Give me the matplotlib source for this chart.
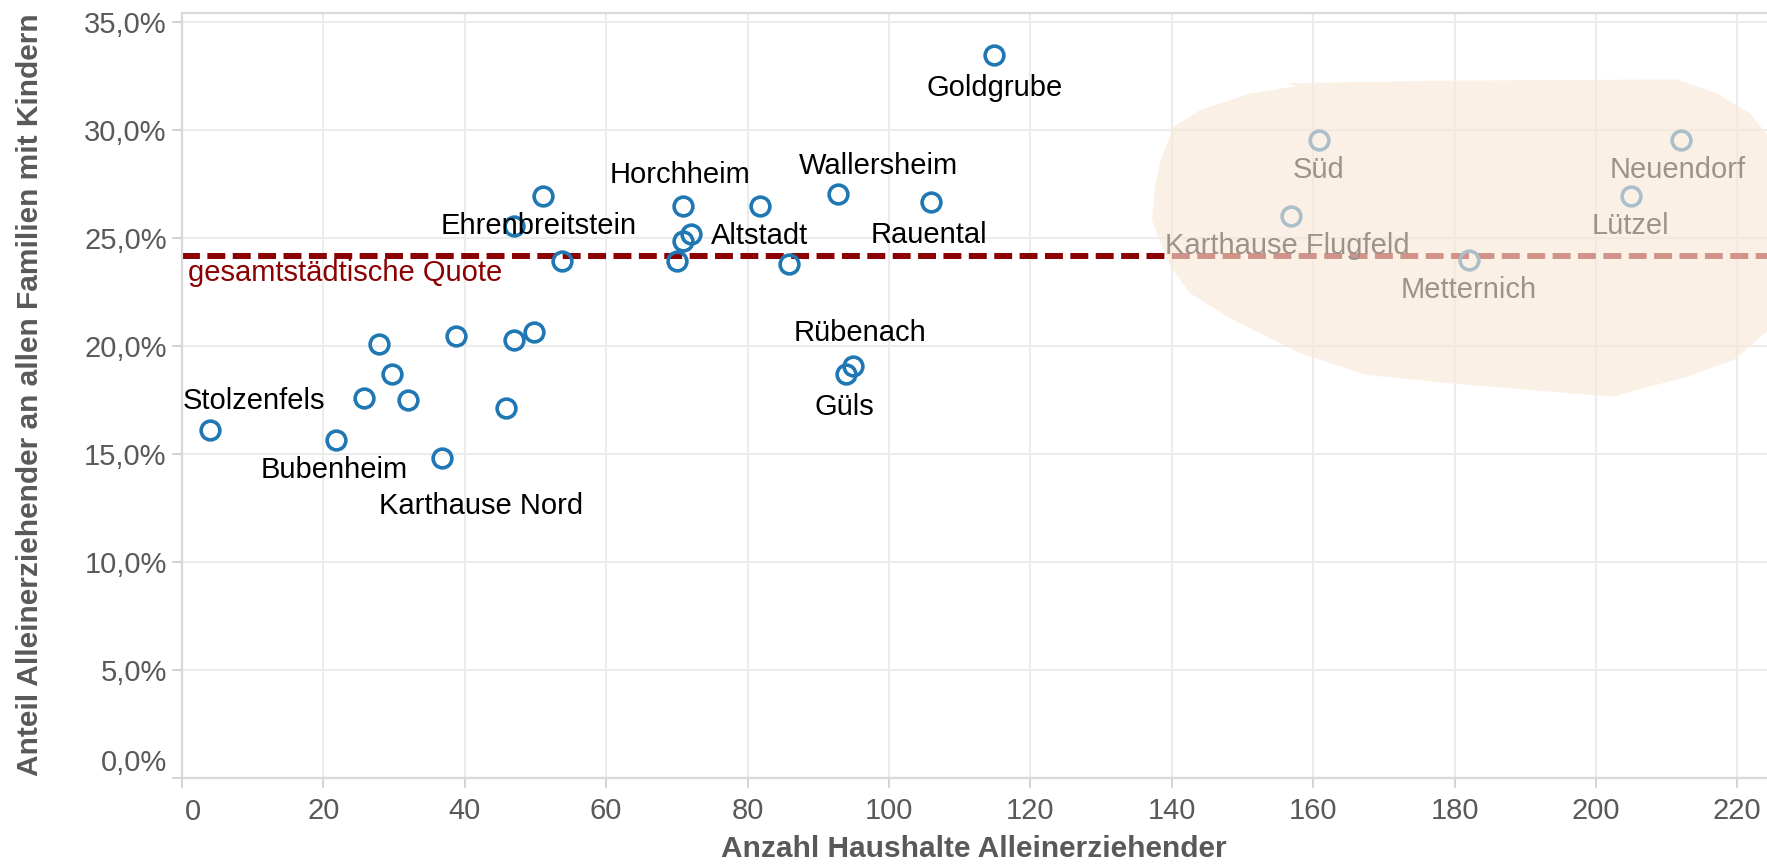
import matplotlib
matplotlib.use("Agg")
import matplotlib.pyplot as plt
from matplotlib.patches import Polygon
from matplotlib.ticker import FuncFormatter, MultipleLocator

plt.rcParams['font.family'] = ['Liberation Sans', 'DejaVu Sans']

# --- Daten: Stadtteile Koblenz ---
anzahl = [114.9, 160.8, 212.0, 204.9, 156.8, 182.0,
          92.85, 105.9, 70.8, 81.8, 72.0, 70.8, 69.95, 85.8,
          51.0, 47.0, 53.8, 94.85, 93.95,
          49.85, 47.0, 38.8, 27.8, 29.75, 25.8, 32.0, 45.9,
          3.96, 21.8, 36.8]
anteil = [33.48, 29.54, 29.55, 26.94, 26.02, 23.99,
          27.03, 26.67, 26.49, 26.49, 25.20, 24.87, 23.95, 23.79,
          26.96, 25.57, 23.96, 19.08, 18.71,
          20.64, 20.27, 20.47, 20.10, 18.70, 17.59, 17.51, 17.12,
          16.12, 15.66, 14.82]
namen = ["Goldgrube", "Süd", "Neuendorf", "Lützel", "Karthause Flugfeld", "Metternich",
         "Wallersheim", "Rauental", "Horchheim", "Altstadt", "", "", "", "",
         "Ehrenbreitstein", "", "", "Rübenach", "Güls",
         "", "", "", "", "", "", "", "",
         "Stolzenfels", "Bubenheim", "Karthause Nord"]

quote = 24.18  # gesamtstaedtische Quote in %

x_ticks = list(range(0, 221, 20))
y_ticks = list(range(0, 36, 5))

# label offsets in pixels (dx, dy), positive dy = up
label_offset = {
    "Goldgrube": (0, -33), "Süd": (0, -30), "Neuendorf": (-3, -30),
    "Lützel": (0, -30), "Karthause Flugfeld": (-3, -30), "Metternich": (0, -30),
    "Wallersheim": (40, 28), "Rauental": (-2, -33), "Horchheim": (-3, 31),
    "Altstadt": (-1, -30), "Ehrenbreitstein": (-4, -30), "Rübenach": (7, 33),
    "Güls": (-2, -33), "Stolzenfels": (44, 29), "Bubenheim": (-2, -30),
    "Karthause Nord": (39, -48),
}

# outline of the highlighted area (x, y in data units)
blob_x = [156.3, 177.0, 211.5, 217.1, 221.8, 225.4, 226.1, 219.5, 212.9, 202.3,
          179.4, 167.6, 158.2, 148.7, 142.6, 139.8, 137.2, 137.6, 138.4, 140.3,
          144.0, 151.1, 157.7]
blob_y = [32.18, 32.30, 32.36, 31.71, 30.79, 29.32, 21.21, 19.36, 18.59, 17.66,
          18.28, 18.67, 19.67, 21.21, 22.45, 23.68, 25.85, 27.3, 28.62, 30.17,
          30.94, 31.71, 32.05]

GRAY = '#595959'
BLUE = '#1f77b4'
DARKRED = '#8b0000'
TICKSIZE = 21

W, H = 1767, 867
fig = plt.figure(figsize=(W / 100, H / 100), dpi=100)
ax = fig.add_axes([182 / W, 1 - 778 / H, 1 - 182 / W, (778 - 12.7) / H])

ax.set_xlim(0, 224.2)
ax.set_ylim(0, 35.45)
ax.set_xticks(x_ticks)
ax.set_yticks(y_ticks)
# the first labels are nudged inwards in the original, drawn separately below
ax.xaxis.set_major_formatter(FuncFormatter(lambda v, p: "" if v == 0 else f"{v:.0f}"))
ax.yaxis.set_major_formatter(
    FuncFormatter(lambda v, p: "" if v == 0 else f"{v:.1f}%".replace('.', ',')))

ax.grid(True, color='#ececec', lw=1.5, zorder=0)
ax.set_axisbelow(True)
for side in ['left', 'bottom', 'top']:
    ax.spines[side].set_color('#d9d9d9')
    ax.spines[side].set_linewidth(1.6)
ax.spines['right'].set_visible(False)
ax.tick_params(axis='both', colors='#d0d0d0', length=7, width=1.3,
               labelcolor=GRAY, labelsize=TICKSIZE)
ax.tick_params(axis='x', pad=7)
ax.tick_params(axis='y', pad=4)

ax.annotate(f"{x_ticks[0]}", xy=(x_ticks[0], 0), xycoords=ax.get_xaxis_transform(),
            xytext=(11, -19.5), textcoords='offset pixels', ha='center', va='top',
            fontsize=TICKSIZE, color=GRAY, annotation_clip=False)
ax.annotate(f"{y_ticks[0]:.1f}%".replace('.', ','), xy=(0, y_ticks[0]),
            xycoords=ax.get_yaxis_transform(), xytext=(-15.3, 18),
            textcoords='offset pixels', ha='right', va='center_baseline',
            fontsize=TICKSIZE, color=GRAY, annotation_clip=False)

# --- gesamtstaedtische Quote ---
ax.axhline(quote, color=DARKRED, lw=4.3, dashes=(3.0, 1.25), zorder=2)
ax.annotate("gesamtstädtische Quote", xy=(0, quote),
            xycoords=ax.get_yaxis_transform(), xytext=(6, -17),
            textcoords='offset pixels', ha='left', va='center',
            fontsize=21, color=DARKRED, zorder=3)

# --- points ---
ax.plot(anzahl, anteil, linestyle='none', marker='o', markersize=13.5,
        markerfacecolor='none', markeredgecolor=BLUE, markeredgewidth=2.6,
        zorder=4)

for x, y, name in zip(anzahl, anteil, namen):
    if not name:
        continue
    dx, dy = label_offset.get(name, (0, -30))
    ax.annotate(name, xy=(x, y), xytext=(dx, dy), textcoords='offset pixels',
                ha='center', va='center', fontsize=21, color='black', zorder=5)

# --- highlighted area on top ---
blob = Polygon(list(zip(blob_x, blob_y)), closed=True, facecolor='#fae8d8',
               edgecolor='none', alpha=0.64, zorder=10, joinstyle='round')
ax.add_patch(blob)

# --- axis titles ---
fig.text(974 / W, 1 - 849 / H, "Anzahl Haushalte Alleinerziehender",
         ha='center', va='center', fontsize=21.5, fontweight='bold', color=GRAY)
fig.text(30 / W, 1 - 395 / H, "Anteil Alleinerziehender an allen Familien mit Kindern",
         ha='center', va='center', rotation=90, fontsize=21.5,
         fontweight='bold', color=GRAY)

fig.savefig("out.png", dpi=100)
